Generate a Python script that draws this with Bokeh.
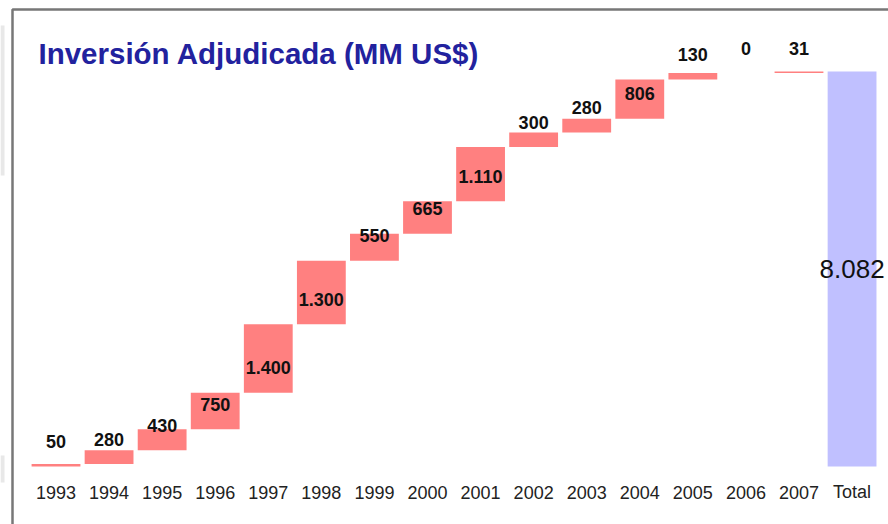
from bokeh.plotting import figure
from bokeh.models import Range1d, Label, BoxAnnotation, ColumnDataSource
from bokeh.core.properties import value
from bokeh.embed import file_html
from bokeh.resources import INLINE

# ---- data ----
years = ["1993", "1994", "1995", "1996", "1997", "1998", "1999", "2000",
         "2001", "2002", "2003", "2004", "2005", "2006", "2007"]
amounts = [50, 280, 430, 750, 1400, 1300, 550, 665, 1110, 300, 280, 806, 130, 0, 31]
total_label = "Total"
total_value = 8082
title_text = "Inversión Adjudicada (MM US$)"

categories = years + [total_label]
positions = list(range(len(categories)))

def fmt(v):
    return f"{v:,}".replace(",", ".")

bottoms = []
tops = []
run = 0
for a in amounts:
    bottoms.append(run)
    run += a
    tops.append(run)

FONT = "Liberation Sans"

p = figure(width=888, height=524, output_backend="svg", toolbar_location=None,
           x_range=Range1d(-1.0458, 15.6866), y_range=Range1d(-1187, 9535),
           x_axis_location=None, y_axis_location=None,
           min_border_left=0, min_border_right=0, min_border_top=0,
           min_border_bottom=0)
p.outline_line_color = None
p.xgrid.grid_line_color = None
p.ygrid.grid_line_color = None
p.background_fill_color = "white"
p.border_fill_color = "white"

# frame lines and light strips of the original slide
p.add_layout(BoxAnnotation(left=0, right=4, top=25, bottom=175,
                           left_units="canvas", right_units="canvas",
                           top_units="canvas", bottom_units="canvas",
                           fill_color="#e8e8e8", fill_alpha=1, line_color=None))
p.add_layout(BoxAnnotation(left=0, right=4, top=455, bottom=482,
                           left_units="canvas", right_units="canvas",
                           top_units="canvas", bottom_units="canvas",
                           fill_color="#e8e8e8", fill_alpha=1, line_color=None))
p.add_layout(BoxAnnotation(left=12, right=3000, top=9, bottom=3000,
                           left_units="canvas", right_units="canvas",
                           top_units="canvas", bottom_units="canvas",
                           fill_color=None, line_color="#777777", line_alpha=1,
                           line_width=2.5))

src = ColumnDataSource(dict(x=positions[:len(years)], bottom=bottoms, top=tops,
                            label=[fmt(a) for a in amounts]))
p.vbar(x="x", bottom="bottom", top="top", width=0.92, source=src,
       fill_color="#FF8080", line_color=None)
p.vbar(x=[positions[-1]], bottom=[0], top=[total_value], width=0.92,
       fill_color="#C0C0FF", line_color=None)

p.text(x="x", y="bottom", text="label", source=src, text_align="center",
       text_baseline="middle", y_offset=-25, text_font=value(FONT),
       text_font_size="18px", text_font_style="bold", text_color="#111111")
p.text(x=[positions[-1]], y=[total_value / 2], text=[fmt(total_value)],
       text_align="center", text_baseline="middle", text_font=value(FONT),
       text_font_size="26px", text_color="#111111")

# category labels under the bars
p.text(x=positions, y=[0] * len(positions), text=categories, text_align="center",
       text_baseline="middle", y_offset=26, text_font=value(FONT),
       text_font_size="18px", text_color="#222222")

p.add_layout(Label(x=-0.33, y=8451, text=title_text, text_font=FONT,
                   text_font_size="29.5px", text_font_style="bold",
                   text_color="#22229e", text_baseline="middle"))

open("out.html", "w").write(file_html(p, INLINE))
